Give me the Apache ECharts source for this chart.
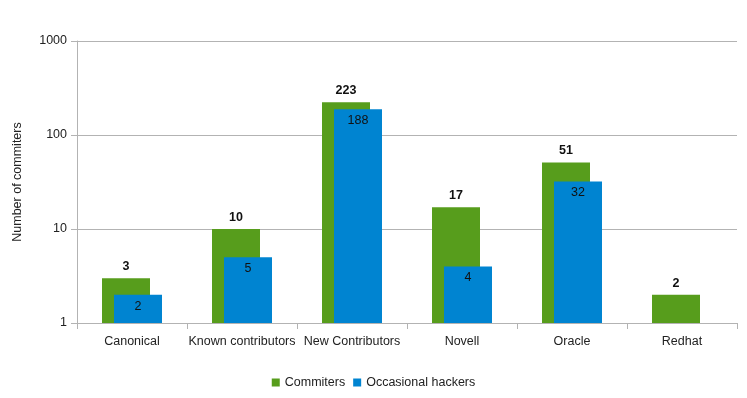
<!DOCTYPE html>
<html>
<head>
<meta charset="utf-8">
<script src="https://cdn.jsdelivr.net/npm/echarts@6/dist/echarts.min.js"></script>
<style>
html, body { margin: 0; padding: 0; background: #fff; }
#chart { width: 747px; height: 398px; }
</style>
</head>
<body>
<div id="chart"></div>
<script>
var categories = ['Canonical', 'Known contributors', 'New Contributors', 'Novell', 'Oracle', 'Redhat'];
var commiters = [3, 10, 223, 17, 51, 2];
var occasional = [2, 5, 188, 4, 32, '-'];

var myChart = echarts.init(document.getElementById('chart'));
var option = {
	textStyle: { fontFamily: 'Liberation Sans, Arial, sans-serif' },
	animation: false,
	grid: { left: 77, right: 10, top: 41, bottom: 75, outerBoundsMode: 'none', containLabel: false },
	legend: {
		bottom: 4,
		left: 'center',
		itemWidth: 8,
		itemHeight: 8,
		itemGap: 8,
		icon: 'rect',
		textStyle: { color: '#222', fontSize: 12.5 },
		data: ['Commiters', 'Occasional hackers']
	},
	xAxis: {
		type: 'category',
		data: categories,
		axisLine: { lineStyle: { color: '#b3b3b3' } },
		axisTick: { show: true, length: 6, lineStyle: { color: '#b3b3b3' } },
		axisLabel: { color: '#222', fontSize: 12.5, margin: 12, interval: 0 }
	},
	yAxis: {
		type: 'log',
		logBase: 10,
		min: 1,
		max: 1000,
		name: 'Number of commiters',
		nameLocation: 'middle',
		nameGap: 53,
		nameTextStyle: { color: '#222', fontSize: 12.5 },
		axisLine: { show: true, lineStyle: { color: '#b3b3b3' } },
		axisTick: { show: true, length: 6, lineStyle: { color: '#b3b3b3' } },
		splitLine: { lineStyle: { color: '#b3b3b3' } },
		axisLabel: {
			color: '#222', fontSize: 12.5, margin: 10,
			formatter: function (v) { return String(Math.round(v)); }
		}
	},
	series: [
		{
			name: 'Commiters',
			type: 'bar',
			data: commiters,
			barWidth: 48,
			barGap: '-75%',
			itemStyle: { color: '#579d1c' },
			label: { show: true, position: 'top', color: '#111', fontWeight: 'bold', fontSize: 12.5, distance: 5 }
		},
		{
			name: 'Occasional hackers',
			type: 'bar',
			data: occasional,
			barWidth: 48,
			itemStyle: { color: '#0084d1' },
			label: { show: true, position: 'insideTop', color: '#111', fontSize: 12.5, distance: 5 }
		}
	]
};
myChart.setOption(option);
</script>
</body>
</html>
